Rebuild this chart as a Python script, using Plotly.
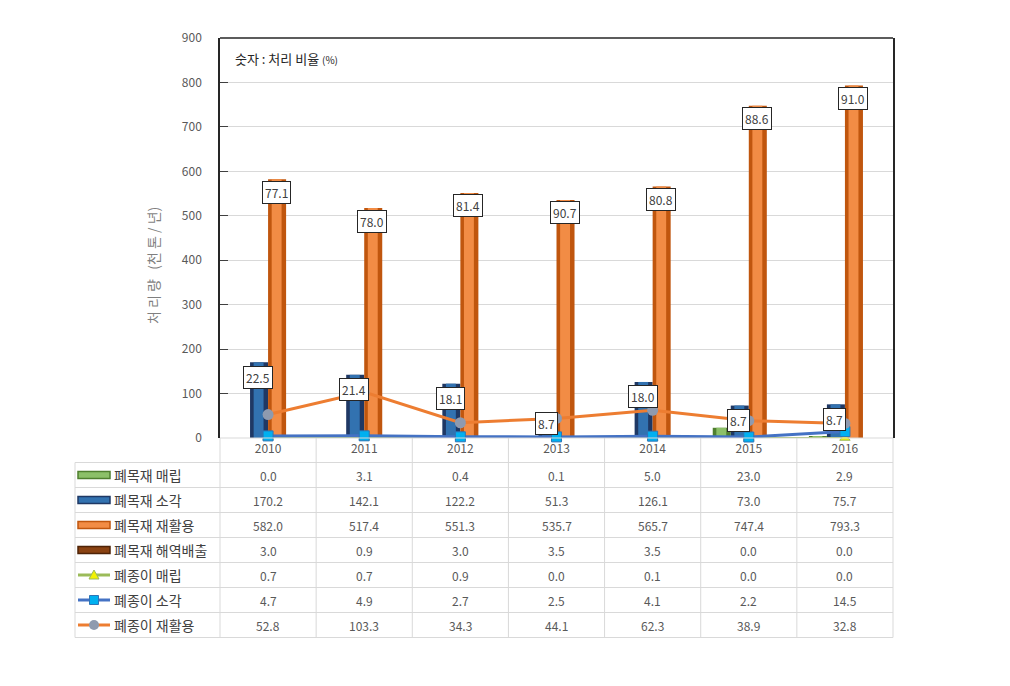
import plotly.graph_objects as go

# ---------------- data ----------------
years = ['2010', '2011', '2012', '2013', '2014', '2015', '2016']
wood_landfill = [0.0, 3.1, 0.4, 0.1, 5.0, 23.0, 2.9]
wood_incin = [170.2, 142.1, 122.2, 51.3, 126.1, 73.0, 75.7]
wood_recycle = [582.0, 517.4, 551.3, 535.7, 565.7, 747.4, 793.3]
wood_ocean = [3.0, 0.9, 3.0, 3.5, 3.5, 0.0, 0.0]
paper_landfill = [0.7, 0.7, 0.9, 0.0, 0.1, 0.0, 0.0]
paper_incin = [4.7, 4.9, 2.7, 2.5, 4.1, 2.2, 14.5]
paper_recycle = [52.8, 103.3, 34.3, 44.1, 62.3, 38.9, 32.8]
recycle_pct = [77.1, 78.0, 81.4, 90.7, 80.8, 88.6, 91.0]
incin_pct = [22.5, 21.4, 18.1, 8.7, 18.0, 8.7, 8.7]

row_names = ['폐목재 매립', '폐목재 소각', '폐목재 재활용', '폐목재 해역배출',
             '폐종이 매립', '폐종이 소각', '폐종이 재활용']
row_values = [wood_landfill, wood_incin, wood_recycle, wood_ocean,
              paper_landfill, paper_incin, paper_recycle]

# ---------------- geometry (page pixels) ----------------
OFF = 8                                 # default body margin of the html page
W, H = 1010 - 2 * OFF, 686 - 2 * OFF
PL, PR, PT, PB = 220, 893, 38, 438      # plot area in page pixels
TL = 75                                 # table left
ROW_H = 25
HDR_B = 462.5                           # bottom of the year header row
FONT = "Noto Sans CJK KR"


def px(x):
    return (x - PL) / (PR - PL)


def py(y):
    return (PB - y) / (PB - PT)


fig = go.Figure()

# ---------------- bars (3D-ish cylinders: dark outer + light inner) ----------------
bw = 0.1875
bar_specs = [
    (wood_landfill, -2 * bw, '#4F7F2E', '#8CC068'),
    (wood_incin, -bw, '#1F3864', '#3272B0'),
    (wood_recycle, 0.0, '#C0560E', '#F28C45'),
    (wood_ocean, bw, '#4E2307', '#8A4212'),
]
for vals, off, c_out, c_in in bar_specs:
    fig.add_trace(go.Bar(x=years, y=vals, width=bw, offset=off,
                         marker=dict(color=c_out, line=dict(width=0)),
                         showlegend=False, hoverinfo='skip'))
    fig.add_trace(go.Bar(x=years, y=vals, width=bw * 0.55, offset=off + bw * 0.2,
                         marker=dict(color=c_in, line=dict(width=0)),
                         showlegend=False, hoverinfo='skip'))

# ---------------- lines ----------------
fig.add_trace(go.Scatter(x=years, y=paper_landfill, mode='lines+markers',
                         line=dict(color='#9BBB59', width=3),
                         marker=dict(symbol='triangle-up', size=9, color='#F2F200',
                                     line=dict(color='#9BBB59', width=1)),
                         cliponaxis=False, showlegend=False))
fig.add_trace(go.Scatter(x=years, y=paper_incin, mode='lines+markers',
                         line=dict(color='#4472C4', width=3),
                         marker=dict(symbol='square', size=10, color='#00B0F0',
                                     line=dict(color='#2E75B6', width=1)),
                         cliponaxis=False, showlegend=False))
fig.add_trace(go.Scatter(x=years, y=paper_recycle, mode='lines+markers',
                         line=dict(color='#ED7D31', width=3),
                         marker=dict(symbol='circle', size=11, color='#8E9AAF'),
                         cliponaxis=False, showlegend=False))

annotations = []
shapes = []
ppu = (PB - PT) / 900.0  # pixels per unit

# ---------------- data labels (percentages) ----------------
for i, (v, p) in enumerate(zip(wood_recycle, recycle_pct)):
    annotations.append(dict(x=i, y=v, xref='x', yref='y', text=f'{p:.1f}',
                            showarrow=False, xshift=8, yshift=-13,
                            font=dict(family=FONT, size=12, color='#404040'),
                            bgcolor='white', bordercolor='#262626', borderwidth=1,
                            borderpad=2))
for i, (v, p) in enumerate(zip(wood_incin, incin_pct)):
    ys = -min(15.0, v * ppu - 15)
    annotations.append(dict(x=i, y=v, xref='x', yref='y', text=f'{p:.1f}',
                            showarrow=False, xshift=-10, yshift=ys,
                            font=dict(family=FONT, size=12, color='#404040'),
                            bgcolor='white', bordercolor='#262626', borderwidth=1,
                            borderpad=2))

# note inside plot
annotations.append(dict(x=px(233), y=py(58), xref='paper', yref='paper',
                        xanchor='left', yanchor='middle', showarrow=False,
                        text="숫자 : 처리 비율 <span style='font-size:10px'>(%)</span>",
                        font=dict(family=FONT, size=13, color='#262626')))

# y axis title
annotations.append(dict(x=px(141), y=py(266), xref='paper', yref='paper',
                        showarrow=False, textangle=-90, text='처 리 량   (천 톤 / 년)',
                        font=dict(family=FONT, size=14, color='#7F7F7F')))

# ---------------- data table ----------------
grid = '#D9D9D9'
TB = HDR_B + ROW_H * len(row_names)
col_w = (PR - PL) / len(years)
shapes.append(dict(type='line', xref='paper', yref='paper', x0=px(PL), x1=px(PR),
                   y0=py(PB), y1=py(PB), line=dict(color=grid, width=1)))
for i in range(len(row_names) + 1):
    yy = HDR_B + i * ROW_H
    shapes.append(dict(type='line', xref='paper', yref='paper', x0=px(TL), x1=px(PR),
                       y0=py(yy), y1=py(yy), line=dict(color=grid, width=1)))
shapes.append(dict(type='line', xref='paper', yref='paper', x0=px(TL), x1=px(TL),
                   y0=py(HDR_B), y1=py(TB), line=dict(color=grid, width=1)))
for k in range(len(years) + 1):
    xx = PL + k * col_w
    shapes.append(dict(type='line', xref='paper', yref='paper', x0=px(xx), x1=px(xx),
                       y0=py(PB), y1=py(TB), line=dict(color=grid, width=1)))

key_specs = [
    ('bar', '#4F7F2E', '#8CC068', None),
    ('bar', '#1F3864', '#3272B0', None),
    ('bar', '#C0560E', '#F28C45', None),
    ('bar', '#4E2307', '#8A4212', None),
    ('line', '#9BBB59', '#F2F200', 'triangle'),
    ('line', '#4472C4', '#00B0F0', 'square'),
    ('line', '#ED7D31', '#8E9AAF', 'circle'),
]
for i, (name, vals, ks) in enumerate(zip(row_names, row_values, key_specs)):
    cy = HDR_B + ROW_H * (i + 0.5)
    kind, c1, c2, sym = ks
    kx0, kx1 = 78, 110
    if kind == 'bar':
        shapes.append(dict(type='rect', xref='paper', yref='paper',
                           x0=px(kx0), x1=px(kx1), y0=py(cy - 3.5), y1=py(cy + 3.5),
                           fillcolor=c2, line=dict(color=c1, width=1.5)))
    else:
        shapes.append(dict(type='line', xref='paper', yref='paper',
                           x0=px(kx0), x1=px(kx1), y0=py(cy), y1=py(cy),
                           line=dict(color=c1, width=3)))
        mx = (kx0 + kx1) / 2
        if sym == 'square':
            shapes.append(dict(type='rect', xref='paper', yref='paper',
                               x0=px(mx - 4.5), x1=px(mx + 4.5), y0=py(cy - 4.5), y1=py(cy + 4.5),
                               fillcolor=c2, line=dict(color='#2E75B6', width=1)))
        elif sym == 'circle':
            shapes.append(dict(type='circle', xref='paper', yref='paper',
                               x0=px(mx - 5), x1=px(mx + 5), y0=py(cy - 5), y1=py(cy + 5),
                               fillcolor=c2, line=dict(color=c2, width=0)))
        else:
            path = (f'M {px(mx - 5)},{py(cy + 4)} L {px(mx + 5)},{py(cy + 4)} '
                    f'L {px(mx)},{py(cy - 5)} Z')
            shapes.append(dict(type='path', xref='paper', yref='paper', path=path,
                               fillcolor=c2, line=dict(color=c1, width=1)))
    annotations.append(dict(x=px(112), y=py(cy), xref='paper', yref='paper',
                            xanchor='left', yanchor='middle', showarrow=False, text=name,
                            font=dict(family=FONT, size=14, color='#404040')))
    for j, v in enumerate(vals):
        annotations.append(dict(x=j, y=py(cy), xref='x', yref='paper',
                                xanchor='center', yanchor='middle', showarrow=False,
                                text=f'{v:.1f}',
                                font=dict(family=FONT, size=12, color='#595959')))

# top border of plot area (left/right via mirrored y axis line)
shapes.append(dict(type='line', xref='paper', yref='paper', x0=0, x1=1,
                   y0=1, y1=1, line=dict(color='#262626', width=1.5)))

fig.update_layout(
    width=W, height=H,
    margin=dict(l=PL - OFF, r=W - (PR - OFF), t=PT - OFF, b=H - (PB - OFF), pad=0,
                autoexpand=False),
    paper_bgcolor='white', plot_bgcolor='white',
    barmode='overlay',
    showlegend=False,
    font=dict(family=FONT, color='#595959'),
    xaxis=dict(type='category', range=[-0.5, 6.5], automargin=False,
               showgrid=False, showline=False, zeroline=False, ticks='',
               tickfont=dict(family=FONT, size=12, color='#595959'),
               ticklabelstandoff=2),
    yaxis=dict(range=[0, 900], dtick=100, automargin=False,
               showgrid=True, gridcolor='#D9D9D9', gridwidth=1,
               zeroline=False, showline=True, linecolor='#262626', linewidth=1.5,
               mirror=True, ticks='inside', ticklen=8, tickcolor='#404040',
               tickfont=dict(family=FONT, size=12, color='#595959'),
               ticklabelstandoff=14),
    shapes=shapes,
    annotations=annotations,
)

fig.write_html('out.html')
